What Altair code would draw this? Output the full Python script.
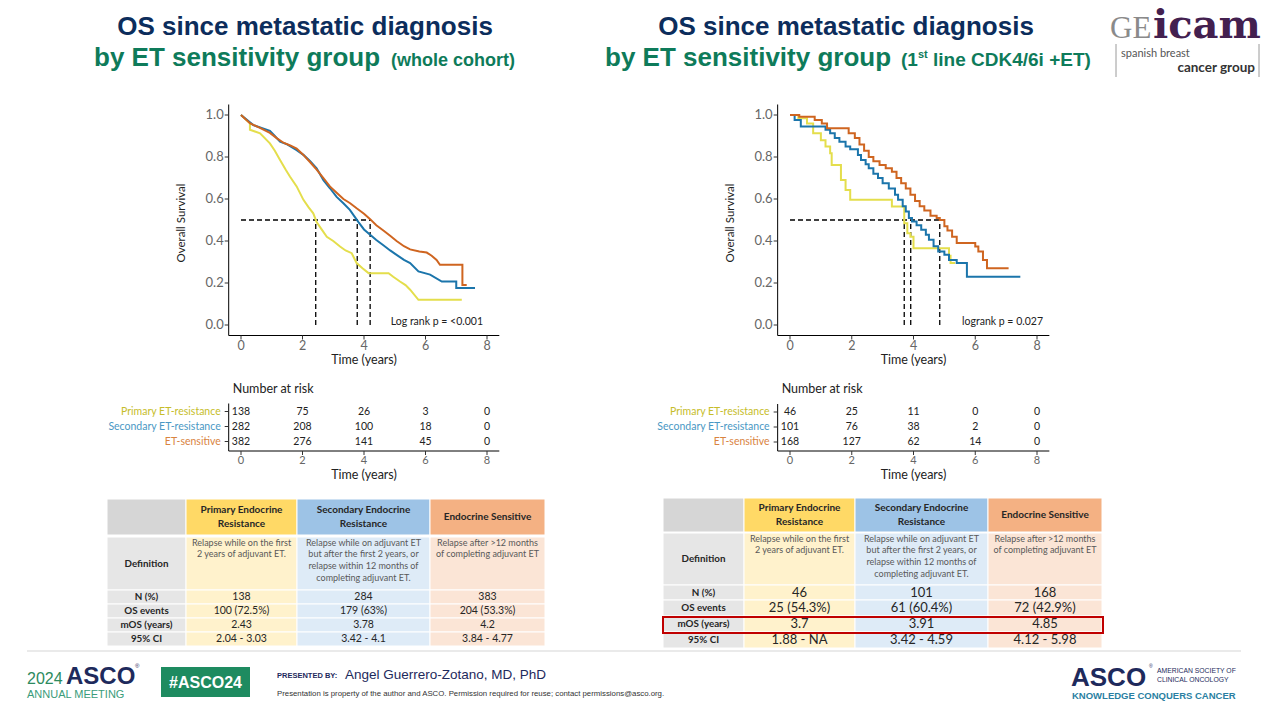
import altair as alt
import pandas as pd

# ---------------- data ----------------
GROUPS = ["Primary ET-resistance", "Secondary ET-resistance", "ET-sensitive"]
LINE_COLORS = ["#E4DE4C", "#1B75AB", "#CF6520"]
LABEL_COLORS = ["#C6BD2A", "#4A98C4", "#D9843F"]

RISK_TIMES = [0, 2, 4, 6, 8]
X_TICKS = [0, 2, 4, 6, 8]
Y_TICKS = [0.0, 0.2, 0.4, 0.6, 0.8, 1.0]

# whole cohort (left)
WC_PRI_T = [0, 0.15, 0.29, 0.29, 0.62, 0.94, 1.1, 1.27, 1.45, 1.59, 1.81, 2.03, 2.2, 2.35, 2.46, 2.6, 2.79, 3.0,
            3.22, 3.4, 3.6, 3.76, 3.95, 4.15, 4.8, 4.95, 5.17, 5.35, 5.5, 5.77, 7.18]
WC_PRI_S = [1.0, 0.98, 0.96, 0.93, 0.913, 0.865, 0.83, 0.786, 0.74, 0.707, 0.66, 0.596, 0.56, 0.532, 0.49, 0.46,
            0.42, 0.40, 0.374, 0.355, 0.342, 0.295, 0.27, 0.247, 0.247, 0.23, 0.207, 0.19, 0.168, 0.12, 0.12]
WC_SEC_T = [0, 0.4, 0.94, 1.1, 1.27, 1.5, 1.81, 2.03, 2.25, 2.46, 2.68, 2.9, 3.11, 3.33, 3.54, 3.82, 4.0, 4.2,
            4.4, 4.63, 4.85, 5.06, 5.3, 5.5, 5.77, 6.15, 6.53, 7.0, 7.0, 7.61]
WC_SEC_S = [1.0, 0.952, 0.925, 0.90, 0.873, 0.86, 0.833, 0.81, 0.78, 0.746, 0.69, 0.65, 0.61, 0.58, 0.548, 0.49,
            0.455, 0.43, 0.405, 0.38, 0.355, 0.334, 0.31, 0.295, 0.255, 0.24, 0.207, 0.207, 0.176, 0.176]
WC_SEN_T = [0, 0.3, 0.6, 0.94, 1.16, 1.38, 1.6, 1.81, 2.03, 2.25, 2.46, 2.68, 2.89, 3.11, 3.33, 3.55, 3.76, 4.0,
            4.2, 4.4, 4.63, 4.85, 5.06, 5.3, 5.5, 5.8, 6.04, 6.2, 6.36, 6.47, 7.2, 7.2, 7.34]
WC_SEN_S = [1.0, 0.96, 0.94, 0.915, 0.89, 0.868, 0.855, 0.84, 0.81, 0.775, 0.74, 0.70, 0.66, 0.63, 0.60, 0.58,
            0.556, 0.53, 0.504, 0.475, 0.45, 0.425, 0.40, 0.375, 0.36, 0.35, 0.345, 0.33, 0.31, 0.287, 0.287,
            0.19, 0.19]
WC_RISK = [[138, 75, 26, 3, 0], [282, 208, 100, 18, 0], [382, 276, 141, 45, 0]]
WC_MEDIANS = [2.43, 3.78, 4.2]
WC_PTEXT = "Log rank p = <0.001"
WC_N = ["138", "284", "383"]
WC_EVENTS = ["100 (72.5%)", "179 (63%)", "204 (53.3%)"]
WC_MOS = ["2.43", "3.78", "4.2"]
WC_CI = ["2.04 - 3.03", "3.42 - 4.1", "3.84 - 4.77"]

# 1st line CDK4/6i + ET (right)
CDK_PRI_T = [0, 0.27, 0.55, 0.75, 1.0, 1.15, 1.3, 1.35, 1.65, 1.8, 1.95, 3.3, 3.7, 3.8, 3.9, 4.0, 5.15, 5.2, 5.35]
CDK_PRI_S = [1.0, 0.984, 0.96, 0.913, 0.88, 0.85, 0.818, 0.762, 0.69, 0.643, 0.596, 0.564, 0.485, 0.437, 0.42,
             0.366, 0.33, 0.295, 0.295]
CDK_SEC_T = [0, 0.15, 0.35, 1.15, 1.3, 1.45, 1.6, 1.8, 1.95, 2.2, 2.3, 2.45, 2.55, 2.7, 2.85, 3.0, 3.2, 3.4, 3.5,
             3.65, 3.75, 3.85, 3.95, 4.1, 4.25, 4.4, 4.5, 4.65, 4.8, 5.0, 5.15, 5.4, 5.73, 7.46]
CDK_SEC_S = [1.0, 0.976, 0.945, 0.93, 0.913, 0.89, 0.873, 0.85, 0.837, 0.81, 0.786, 0.765, 0.746, 0.72, 0.70,
             0.675, 0.65, 0.62, 0.596, 0.565, 0.54, 0.51, 0.493, 0.475, 0.453, 0.43, 0.406, 0.375, 0.35, 0.335,
             0.31, 0.295, 0.23, 0.23]
CDK_SEN_T = [0, 0.3, 0.8, 1.03, 1.2, 1.9, 2.1, 2.25, 2.4, 2.55, 2.7, 2.9, 3.1, 3.3, 3.45, 3.6, 3.75, 3.9, 4.05,
             4.2, 4.35, 4.55, 4.75, 4.85, 5.0, 5.1, 5.25, 5.4, 6.0, 6.1, 6.25, 6.38, 7.08]
CDK_SEN_S = [1.0, 0.992, 0.976, 0.96, 0.937, 0.913, 0.89, 0.86, 0.83, 0.80, 0.78, 0.762, 0.746, 0.73, 0.70, 0.675,
             0.65, 0.62, 0.59, 0.565, 0.545, 0.52, 0.51, 0.50, 0.47, 0.45, 0.42, 0.39, 0.374, 0.35, 0.31, 0.27,
             0.27]
CDK_RISK = [[46, 25, 11, 0, 0], [101, 76, 38, 2, 0], [168, 127, 62, 14, 0]]
CDK_MEDIANS = [3.7, 3.91, 4.85]
CDK_PTEXT = "logrank p = 0.027"
CDK_N = ["46", "101", "168"]
CDK_EVENTS = ["25 (54.3%)", "61 (60.4%)", "72 (42.9%)"]
CDK_MOS = ["3.7", "3.91", "4.85"]
CDK_CI = ["1.88 - NA", "3.42 - 4.59", "4.12 - 5.98"]

TABLE_HEADERS = ["", "Primary Endocrine\nResistance", "Secondary Endocrine\nResistance", "Endocrine Sensitive"]
ROW_LABELS = ["Definition", "N (%)", "OS events", "mOS (years)", "95% CI"]
DEFINITIONS = ["Relapse while on the first\n2 years of adjuvant ET.",
               "Relapse while on adjuvant ET\nbut after the first 2 years, or\nrelapse within 12 months of\ncompleting adjuvant ET.",
               "Relapse after >12 months\nof completing adjuvant ET"]

# ---------------- styles / layout ----------------
SANS = "Liberation Sans"
CAL = "Lato"
NAVY = "#0C2D5C"
GREEN = "#0E7B5A"
HEADER_FILLS = ["#D6D6D6", "#FFD966", "#9DC3E6", "#F4B183"]
BODY_FILLS = ["#E6E6E6", "#FFF2CC", "#DEEBF7", "#FBE5D6"]

Y_S0, Y_S1 = 325.0, 115.0  # pixel of survival 0 and 1


def txt(text, x, y, size, color="#000000", weight="normal", align="left", font=SANS,
        baseline="alphabetic", angle=None):
    kw = dict(fontSize=size, color=color, fontWeight=weight, align=align, font=font, baseline=baseline)
    if angle is not None:
        kw["angle"] = angle
    return alt.Chart(pd.DataFrame({"text": [text]})).mark_text(**kw).encode(
        x=alt.value(x), y=alt.value(y), text="text:N")


def km_panel(ts, ss, medians, ptext, x0, x8, interp, p_right):
    u = (x8 - x0) / 8.0
    xs = alt.Scale(domain=[-0.4, 8.4], range=[x0 - 0.4 * u, x0 + 8.4 * u], nice=False, zero=False)
    h = Y_S0 - Y_S1
    ys = alt.Scale(domain=[-0.05, 1.05], range=[Y_S0 + 0.05 * h, Y_S1 - 0.05 * h], nice=False, zero=False)
    ax = x0 - 0.4 * u
    ay = Y_S0 + 0.05 * h
    rows = []
    for g, t_list, s_list in zip(GROUPS, ts, ss):
        for i, (t, s) in enumerate(zip(t_list, s_list)):
            rows.append({"group": g, "t": t, "s": s, "i": i})
    cdf = pd.DataFrame(rows)
    curves = alt.Chart(cdf).mark_line(strokeWidth=2, interpolate=interp).encode(
        x=alt.X("t:Q", scale=xs, axis=None),
        y=alt.Y("s:Q", scale=ys, axis=None),
        color=alt.Color("group:N", scale=alt.Scale(domain=GROUPS, range=LINE_COLORS), legend=None),
        order="i:Q")
    mrows = [{"t1": 0.0, "t2": max(medians), "s1": 0.5, "s2": 0.5}]
    for m in medians:
        mrows.append({"t1": m, "t2": m, "s1": 0.0, "s2": 0.5})
    med = alt.Chart(pd.DataFrame(mrows)).mark_rule(color="#000000", strokeDash=[5, 3], strokeWidth=1.3).encode(
        x=alt.X("t1:Q", scale=xs, axis=None), x2="t2:Q",
        y=alt.Y("s1:Q", scale=ys, axis=None), y2="s2:Q")
    arows = [{"t1": -0.4, "t2": 8.4, "s1": -0.05, "s2": -0.05},
             {"t1": -0.4, "t2": -0.4, "s1": -0.05, "s2": 1.05}]
    axes = alt.Chart(pd.DataFrame(arows)).mark_rule(color="#000000", strokeWidth=1).encode(
        x=alt.X("t1:Q", scale=xs, axis=None), x2="t2:Q",
        y=alt.Y("s1:Q", scale=ys, axis=None), y2="s2:Q")
    xt = pd.DataFrame({"t": X_TICKS})
    xticks = alt.Chart(xt).mark_rule(color="#333333").encode(
        x=alt.X("t:Q", scale=xs, axis=None), y=alt.value(ay), y2=alt.value(ay + 4))
    xlabels = alt.Chart(xt).mark_text(fontSize=12.5, color="#666666", font=CAL, baseline="middle").encode(
        x=alt.X("t:Q", scale=xs, axis=None), y=alt.value(346), text="t:Q")
    yt = pd.DataFrame({"s": Y_TICKS})
    yticks = alt.Chart(yt).mark_rule(color="#333333").encode(
        x=alt.value(ax - 4), x2=alt.value(ax), y=alt.Y("s:Q", scale=ys, axis=None))
    ylabels = alt.Chart(yt).mark_text(fontSize=13, color="#666666", font=CAL, baseline="middle",
                                       align="right").encode(
        x=alt.value(ax - 5), y=alt.Y("s:Q", scale=ys, axis=None), text=alt.Text("s:Q", format=".1f"))
    inner = alt.layer(axes, med, curves, xticks, xlabels, yticks, ylabels)
    extras = [
        txt("Time (years)", (ax + x0 + 8.4 * u) / 2, 359.5, 12.5, "#222222", font=CAL, align="center",
            baseline="middle"),
        txt("Overall Survival", ax - 47, (Y_S0 + Y_S1) / 2 + 3, 11.5, "#222222", font=CAL, align="center",
            baseline="middle", angle=270),
        txt(ptext, p_right, 322, 10.5, "#222222", font=CAL, align="right", baseline="middle"),
    ]
    return [inner] + extras


def risk_panel(risk, x0, x8, ry0, ry2):
    u = (x8 - x0) / 8.0
    xs = alt.Scale(domain=[-0.4, 8.4], range=[x0 - 0.4 * u, x0 + 8.4 * u], nice=False, zero=False)
    gs = alt.Scale(type="point", domain=GROUPS, range=[ry0, ry2], padding=0)
    ax = x0 - 0.4 * u
    rows = []
    for g, vals in zip(GROUPS, risk):
        for t, n in zip(RISK_TIMES, vals):
            rows.append({"group": g, "t": t, "n": n})
    rdf = pd.DataFrame(rows)
    nums = alt.Chart(rdf).mark_text(fontSize=10.5, font=CAL, color="#222222", baseline="middle").encode(
        x=alt.X("t:Q", scale=xs, axis=None), y=alt.Y("group:N", scale=gs, axis=None), text="n:Q")
    gdf = pd.DataFrame({"group": GROUPS, "lc": LABEL_COLORS})
    glabels = alt.Chart(gdf).mark_text(fontSize=10.5, font=CAL, align="right", baseline="middle").encode(
        x=alt.value(ax - 8), y=alt.Y("group:N", scale=gs, axis=None), text="group:N",
        color=alt.Color("lc:N", scale=None))
    gticks = alt.Chart(gdf).mark_rule(color="#333333").encode(
        x=alt.value(ax - 4), x2=alt.value(ax), y=alt.Y("group:N", scale=gs, axis=None))
    bottom = 451
    vline = alt.Chart(pd.DataFrame({"a": [0]})).mark_rule(color="#000000").encode(
        x=alt.value(ax), y=alt.value(ry0 - 8), y2=alt.value(bottom))
    hline = alt.Chart(pd.DataFrame({"t1": [-0.4], "t2": [8.4]})).mark_rule(color="#000000").encode(
        x=alt.X("t1:Q", scale=xs, axis=None), x2="t2:Q", y=alt.value(bottom))
    xt = pd.DataFrame({"t": X_TICKS})
    xticks = alt.Chart(xt).mark_rule(color="#333333").encode(
        x=alt.X("t:Q", scale=xs, axis=None), y=alt.value(bottom), y2=alt.value(bottom + 4))
    xlabels = alt.Chart(xt).mark_text(fontSize=11, color="#666666", font=CAL, baseline="middle").encode(
        x=alt.X("t:Q", scale=xs, axis=None), y=alt.value(461), text="t:Q")
    inner = alt.layer(vline, hline, gticks, nums, glabels, xticks, xlabels)
    extras = [
        txt("Number at risk", ax + 4, 389, 12.5, "#222222", font=CAL, baseline="middle"),
        txt("Time (years)", (ax + x0 + 8.4 * u) / 2, 474.5, 12.5, "#222222", font=CAL, align="center",
            baseline="middle"),
    ]
    return [inner] + extras


def table_panel(cols, rows, n, events, mos, ci, value_size):
    cells = []
    for r, (y0, y1) in enumerate(rows):
        for c in range(4):
            cells.append({"x0": cols[c], "x1": cols[c + 1], "y0": y0, "y1": y1,
                          "fill": HEADER_FILLS[c] if r == 0 else BODY_FILLS[c]})
    rects = alt.Chart(pd.DataFrame(cells)).mark_rect(stroke="#FFFFFF", strokeWidth=1).encode(
        x=alt.X("x0:Q", scale=None), x2="x1:Q", y=alt.Y("y0:Q", scale=None), y2="y1:Q",
        color=alt.Color("fill:N", scale=None))
    cx = [(cols[c] + cols[c + 1]) / 2 for c in range(4)]
    cy = [(a + b) / 2 for a, b in rows]
    lh = 13.5
    head_y = [cy[0] - (t.count("\n")) * lh / 2 for t in TABLE_HEADERS[1:]]
    head = pd.DataFrame({"x": cx[1:], "y": head_y, "text": TABLE_HEADERS[1:]})
    head_t = alt.Chart(head).mark_text(fontSize=10, fontWeight="bold", font=CAL, color="#262626",
                                       lineBreak="\n", lineHeight=lh, baseline="middle").encode(
        x=alt.X("x:Q", scale=None), y=alt.Y("y:Q", scale=None), text="text:N")
    lab = pd.DataFrame({"x": [cx[0]] * 5, "y": cy[1:], "text": ROW_LABELS})
    lab_t = alt.Chart(lab).mark_text(fontSize=9.8, fontWeight="bold", font=CAL, color="#262626",
                                     baseline="middle").encode(
        x=alt.X("x:Q", scale=None), y=alt.Y("y:Q", scale=None), text="text:N")
    dfn = pd.DataFrame({"x": cx[1:], "y": [rows[1][0] + 1.5] * 3, "text": DEFINITIONS})
    dfn_t = alt.Chart(dfn).mark_text(fontSize=9, font=CAL, color="#595959", lineBreak="\n",
                                     lineHeight=11.8, baseline="top").encode(
        x=alt.X("x:Q", scale=None), y=alt.Y("y:Q", scale=None), text="text:N")
    vrows = []
    for r, vals in zip(range(2, 6), [n, events, mos, ci]):
        for c in range(3):
            vrows.append({"x": cx[c + 1], "y": cy[r], "text": vals[c]})
    val_t = alt.Chart(pd.DataFrame(vrows)).mark_text(fontSize=value_size, font=CAL, color="#262626",
                                                     baseline="middle").encode(
        x=alt.X("x:Q", scale=None), y=alt.Y("y:Q", scale=None), text="text:N")
    return [rects, head_t, lab_t, dfn_t, val_t]


layers = []

# titles
layers += [
    txt("OS since metastatic diagnosis", 305, 35, 26, NAVY, "bold", "center"),
    txt("by ET sensitivity group", 94, 66, 26, GREEN, "bold"),
    txt("(whole cohort)", 391, 66, 18, GREEN, "bold"),
    txt("OS since metastatic diagnosis", 846, 35, 26, NAVY, "bold", "center"),
    txt("by ET sensitivity group", 605, 66, 26, GREEN, "bold"),
    txt("(1", 901, 66, 19, GREEN, "bold"),
    txt("st", 918, 58, 11, GREEN, "bold"),
    txt("line CDK4/6i +ET)", 933, 66, 19, GREEN, "bold"),
]

# GEICAM logo
layers += [
    txt("GE", 1110, 38, 31, "#8A8A8A", "normal", font="Liberation Serif"),
    txt("icam", 1153, 38, 40, "#43204F", "bold", font="DejaVu Serif"),
    alt.Chart(pd.DataFrame({"a": [0, 1]})).mark_rule(color="#9A9A9A", strokeWidth=1).encode(
        x=alt.X("a:N", scale=alt.Scale(type="point", domain=[0, 1], range=[1116, 1259], padding=0), axis=None),
        y=alt.value(44), y2=alt.value(77)),
    txt("spanish breast", 1121, 57, 11, "#555555", font=CAL),
    txt("cancer group", 1255, 72, 13.5, "#333333", "bold", "right", font=CAL),
]

# KM plots and risk tables
layers += km_panel([WC_PRI_T, WC_SEC_T, WC_SEN_T], [WC_PRI_S, WC_SEC_S, WC_SEN_S], WC_MEDIANS, WC_PTEXT,
                   241, 487, "linear", 483)
layers += km_panel([CDK_PRI_T, CDK_SEC_T, CDK_SEN_T], [CDK_PRI_S, CDK_SEC_S, CDK_SEN_S], CDK_MEDIANS, CDK_PTEXT,
                   790, 1037, "step-after", 1043)
layers += risk_panel(WC_RISK, 241, 487, 411.5, 441.5)
layers += risk_panel(CDK_RISK, 790, 1037, 412, 442)

# tables
layers += table_panel([107, 186, 297, 430, 545],
                      [(499, 535), (537, 590), (590, 604), (604, 618), (618, 632), (632, 646)],
                      WC_N, WC_EVENTS, WC_MOS, WC_CI, 10.5)
layers += table_panel([663, 744, 855, 988, 1102],
                      [(498, 532), (533, 585), (585, 600), (600, 616), (616, 632), (632, 648)],
                      CDK_N, CDK_EVENTS, CDK_MOS, CDK_CI, 13)
layers.append(alt.Chart(pd.DataFrame({"a": [0]})).mark_rect(fill=None, stroke="#C00000", strokeWidth=2).encode(
    x=alt.value(663), x2=alt.value(1103), y=alt.value(617), y2=alt.value(633)))

# footer
layers += [
    alt.Chart(pd.DataFrame({"a": [0]})).mark_rule(color="#E3E3E3", strokeWidth=1.5).encode(
        x=alt.value(27), x2=alt.value(1241), y=alt.value(651)),
    txt("2024", 27, 684, 16, "#2D8A5E"),
    txt("ASCO", 66, 684, 24, "#1E2A5C", "bold"),
    txt("®", 135, 668, 6, "#1E2A5C"),
    txt("ANNUAL MEETING", 27, 698, 11, "#3A9C7A"),
    alt.Chart(pd.DataFrame({"a": [0]})).mark_rect(color="#1E8B60").encode(
        x=alt.value(161), x2=alt.value(250), y=alt.value(667), y2=alt.value(697)),
    txt("#ASCO24", 205.5, 688, 16, "#FFFFFF", "bold", "center"),
    txt("PRESENTED BY:", 277, 678, 7.5, "#1E2A5C", "bold"),
    txt("Angel Guerrero-Zotano, MD, PhD", 345, 679, 13.5, "#1E2A5C"),
    txt("Presentation is property of the author and ASCO. Permission required for reuse; contact permissions@asco.org.",
        277, 696, 7.8, "#333333"),
    txt("ASCO", 1071, 686, 26, "#1E2A5C", "bold"),
    txt("®", 1149, 668, 5, "#1E2A5C"),
    txt("AMERICAN SOCIETY OF", 1157, 673, 6.8, "#1E2A5C"),
    txt("CLINICAL ONCOLOGY", 1157, 682, 6.8, "#1E2A5C"),
    txt("KNOWLEDGE CONQUERS CANCER", 1072, 699, 9.5, "#2A7FA2", "bold"),
]

chart = alt.layer(*layers).properties(
    width=1268, height=714, padding=0, autosize=alt.AutoSizeParams(type="none"), background="white"
).resolve_scale(x="independent", y="independent", color="independent").configure_view(strokeWidth=0)

chart.save("out.html", embed_options={"renderer": "svg", "actions": False})
